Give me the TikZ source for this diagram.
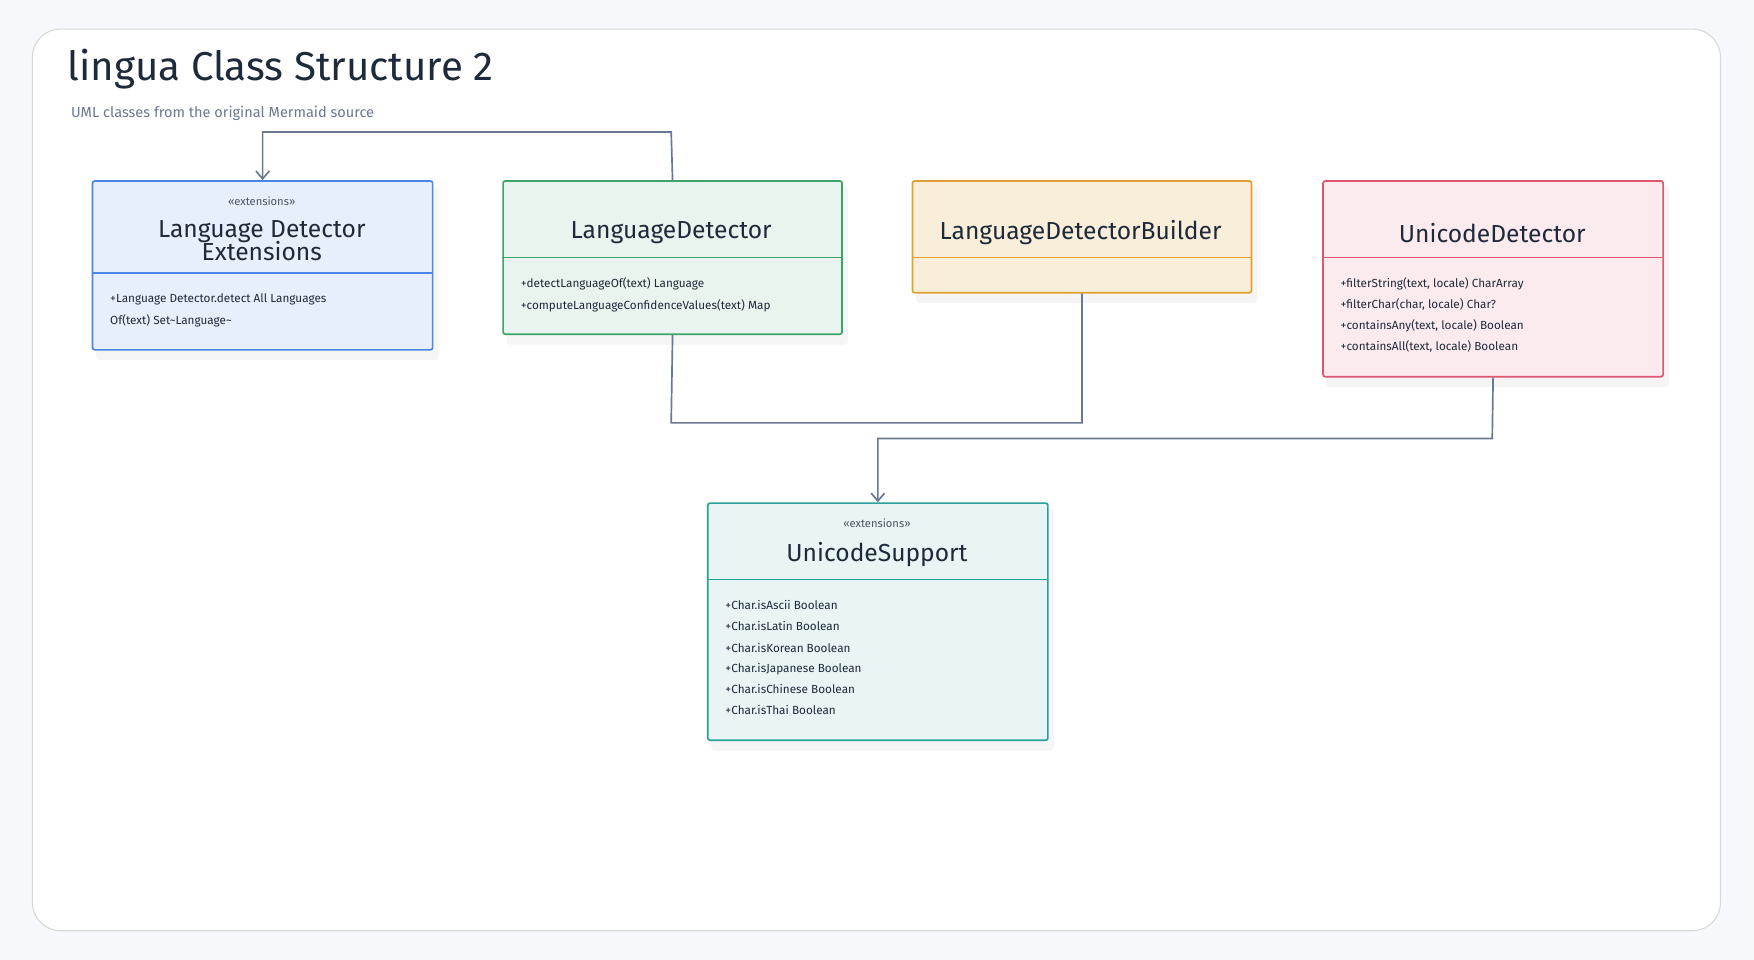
\documentclass[tikz,border=0pt]{standalone}
\usepackage{fontspec}
\setmainfont{Fira Sans}
\usetikzlibrary{arrows.meta}
\begin{document}
\begin{tikzpicture}[x=1pt,y=-1pt,
 box/.style={draw=#1,fill=#1!12,line width=1.5pt,rounded corners=2pt,anchor=north west,inner sep=0pt},
 conn/.style={draw=ln,line width=1.5pt},
 arr/.style={conn,-{Straight Barb[length=7pt,width=12pt,line width=1.5pt]}},
 nm/.style={text=tx,font=\fontsize{22}{24}\selectfont,align=center},
 st/.style={text=tx!80,font=\fontsize{10}{12}\selectfont},
 attr/.style={text=tx,font=\fontsize{10.5}{13}\selectfont,anchor=west}]
\definecolor{bg}{HTML}{F7F8FC}
\definecolor{ln}{HTML}{6B7891}
\definecolor{tx}{HTML}{1E2A3A}
\definecolor{cb}{HTML}{4A86E8}
\definecolor{cg}{HTML}{3DA56A}
\definecolor{co}{HTML}{E0A030}
\definecolor{cr}{HTML}{E05570}
\definecolor{ct}{HTML}{2AA198}
\useasboundingbox (0,0) rectangle (1568,858);
\fill[bg] (0,0) rectangle (1568,858);
\draw[fill=white,draw=gray!30,line width=1pt,rounded corners=25pt] (29,26) rectangle (1538,832);
\node[anchor=west,text=tx,font=\fontsize{36}{40}\selectfont] (title) at (57,62) {lingua Class Structure 2};
\node[anchor=west,text=ln,font=\fontsize{13}{15}\selectfont] (sub) at (60,101) {UML classes from the original Mermaid source};
% shadows
\foreach \a/\b/\c/\d in {82/161/386/312,449/161/752/298,815/161/1118/261,1182/161/1486/336,632/449/936/661}
  \fill[black!4,rounded corners=3pt] (\a+4,\b+6) rectangle (\c+6,\d+10);
% boxes
\node[box=cb,fill=cb!13,minimum width=304pt,minimum height=151pt] (b1) at (82,161) {};
\draw[cb,line width=1pt] (82,244) -- (386,244);
\node[st] (s1) at (234,180) {«extensions»};
\node[nm] (n1) at (234,215) {Language Detector\\[-4pt]Extensions};
\node[attr] (a11) at (95,268) {+Language Detector.detect All Languages};
\node[attr] (a12) at (95,287) {Of(text) Set\textasciitilde Language\textasciitilde};

\node[box=cg,fill=cg!12,minimum width=303pt,minimum height=137pt] (b2) at (449,161) {};
\draw[cg,line width=1pt] (449,230) -- (752,230);
\node[nm] (n2) at (600,208) {LanguageDetector};
\node[attr] (a21) at (462,254) {+detectLanguageOf(text) Language};
\node[attr] (a22) at (462,273) {+computeLanguageConfidenceValues(text) Map};

\node[box=co,fill=co!18,minimum width=303pt,minimum height=100pt] (b3) at (815,161) {};
\draw[co,line width=1pt] (815,230) -- (1118,230);
\node[nm] (n3) at (966,208) {LanguageDetectorBuilder};

\node[box=cr,fill=cr!12,minimum width=304pt,minimum height=175pt] (b4) at (1182,161) {};
\draw[cr,line width=1pt] (1182,230) -- (1486,230);
\node[nm] (n4) at (1334,208) {UnicodeDetector};
\node[attr] (a41) at (1195,254) {+filterString(text, locale) CharArray};
\node[attr] (a42) at (1195,272) {+filterChar(char, locale) Char?};
\node[attr] (a43) at (1195,291) {+containsAny(text, locale) Boolean};
\node[attr] (a44) at (1195,310) {+containsAll(text, locale) Boolean};

\node[box=ct,fill=ct!11,minimum width=304pt,minimum height=212pt] (b5) at (632,449) {};
\draw[ct,line width=1pt] (632,518) -- (936,518);
\node[st] (s5) at (784,468) {«extensions»};
\node[nm] (n5) at (784,496) {UnicodeSupport};
\node[attr] (a51) at (645,541) {+Char.isAscii Boolean};
\node[attr] (a52) at (645,560) {+Char.isLatin Boolean};
\node[attr] (a53) at (645,579) {+Char.isKorean Boolean};
\node[attr] (a54) at (645,598) {+Char.isJapanese Boolean};
\node[attr] (a55) at (645,616) {+Char.isChinese Boolean};
\node[attr] (a56) at (645,635) {+Char.isThai Boolean};

% connectors
\coordinate (c1) at (600,118);
\coordinate (c2) at (600,378);
\coordinate (c3) at (1334,392);
\draw[arr] (b2.north) -- (c1) -| (b1.north);
\draw[conn] (b2.south) -- (c2) -| (b3.south);
\draw[arr] (b4.south) -- (c3) -| (b5.north);
\end{tikzpicture}
\end{document}
